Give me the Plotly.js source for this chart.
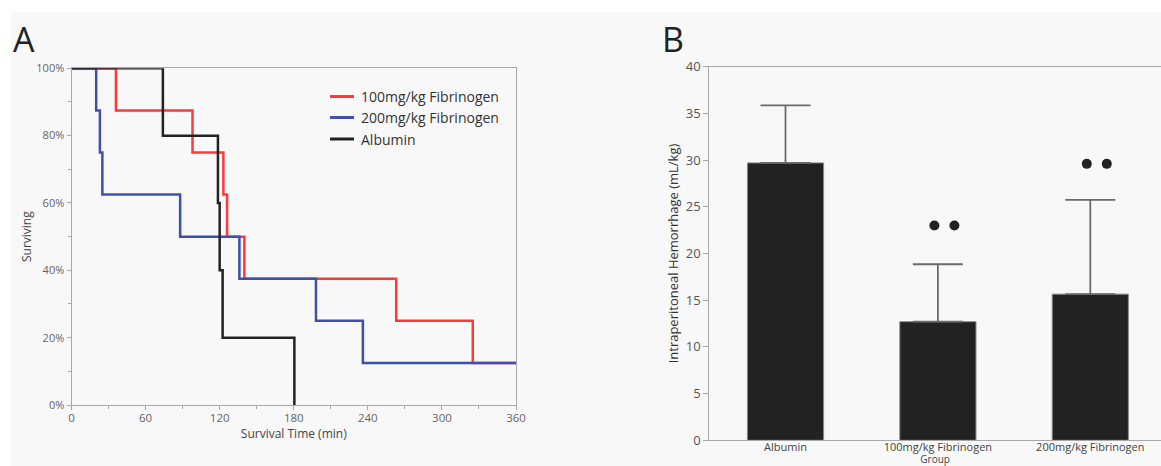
<!DOCTYPE html>
<html>
<head>
<meta charset="utf-8">
<script src="https://cdn.plot.ly/plotly-3.0.1.min.js"></script>
<style>html,body{margin:0;padding:0;background:#fff;}#chart{width:1161px;height:466px;}</style>
</head>
<body>
<div id="chart"></div>
<script>
// ---- Panel A: Kaplan-Meier survival ----
const seriesNames = ["100mg/kg Fibrinogen", "200mg/kg Fibrinogen", "Albumin"];
const seriesColors = ["#ff3838", "#3f4fae", "#222222"];
const timeFib100 = [0, 36, 98, 123, 126, 140, 263, 325, 360];
const survFib100 = [1, 0.875, 0.75, 0.625, 0.5, 0.375, 0.25, 0.125, 0.125];
const timeFib200 = [0, 20, 23, 25, 88, 136, 198, 236, 360];
const survFib200 = [1, 0.875, 0.75, 0.625, 0.5, 0.375, 0.25, 0.125, 0.125];
const timeAlb = [0, 74, 118.6, 120, 122.4, 180.5];
const survAlb = [1, 0.8, 0.6, 0.4, 0.2, 0];
const xTicksA = [0, 60, 120, 180, 240, 300, 360];
const yTicksA = [0, 0.2, 0.4, 0.6, 0.8, 1.0];

// ---- Panel B: Intraperitoneal hemorrhage ----
const groups = ["Albumin", "100mg/kg Fibrinogen", "200mg/kg Fibrinogen"];
const hemorrhage = [29.7, 12.7, 15.65];
const hemorrhageSD = [6.15, 6.15, 10.1];
const sigMarkY = [null, 23.0, 29.6];

const W = 1161, H = 466;
const px = v => v / W;
const py = v => (H - v) / H;

const times = [timeFib100, timeFib200, timeAlb];
const survs = [survFib100, survFib200, survAlb];

const traces = times.map((t, i) => ({
  type: "scatter", mode: "lines", x: t, y: survs[i], name: seriesNames[i],
  line: {shape: "hv", color: seriesColors[i], width: 2.5},
  xaxis: "x", yaxis: "y", showlegend: false, hoverinfo: "x+y+name"
}));

traces.push({
  type: "bar", x: groups, y: hemorrhage, xaxis: "x2", yaxis: "y2",
  width: 0.5, showlegend: false,
  marker: {color: "#222222", line: {color: "#8a8a8a", width: 1}},
  error_y: {type: "data", array: hemorrhageSD, arrayminus: hemorrhageSD.map(() => 0),
            symmetric: false, color: "#6a6a6a", thickness: 1.8, width: 25}
});

const font = "'Open Sans', 'Noto Sans', sans-serif";
const shapes = [
  {type: "rect", xref: "paper", yref: "paper", x0: px(11), x1: 1, y0: 0, y1: py(12),
   fillcolor: "#f8f8f8", line: {width: 0}, layer: "below"}
];
const annotations = [
  {text: "A", xref: "paper", yref: "paper", x: px(11), y: py(14), xanchor: "left", yanchor: "top",
   showarrow: false, font: {family: font, size: 34, color: "#222"}},
  {text: "B", xref: "paper", yref: "paper", x: px(660), y: py(14), xanchor: "left", yanchor: "top",
   showarrow: false, font: {family: font, size: 34, color: "#222"}}
];
// manual legend built from series arrays
const legendRows = [96.5, 117.5, 139];
seriesNames.forEach((n, i) => {
  shapes.push({type: "line", xref: "paper", yref: "paper", x0: px(330), x1: px(354),
    y0: py(legendRows[i]), y1: py(legendRows[i]), line: {color: seriesColors[i], width: 3}});
  annotations.push({text: n, xref: "paper", yref: "paper", x: px(359), y: py(legendRows[i]),
    xanchor: "left", yanchor: "middle", showarrow: false, font: {family: font, size: 14, color: "#333"}});
});
// significance dots
sigMarkY.forEach((v, i) => {
  if (v === null) return;
  [[-8.5, 1.5], [11.5, 21.5]].forEach(o => {
    shapes.push({type: "circle", xref: "x2", yref: "y2", xsizemode: "pixel", ysizemode: "pixel",
      xanchor: groups[i], yanchor: v, x0: o[0], x1: o[1], y0: -5, y1: 5,
      fillcolor: "#222", line: {width: 0}});
  });
});

const layout = {
  width: W, height: H,
  margin: {l: 0, r: 0, t: 0, b: 0},
  paper_bgcolor: "#ffffff", plot_bgcolor: "rgba(0,0,0,0)",
  showlegend: false,
  font: {family: font, color: "#333"},
  xaxis: {
    domain: [px(71.5), px(516)], range: [0, 360], tickvals: xTicksA,
    showgrid: false, zeroline: false, showline: true, linecolor: "#a8a8a8", mirror: true,
    ticks: "outside", ticklen: 4, tickcolor: "#a8a8a8", ticklabelstandoff: -2,
    minor: {dtick: 30, ticks: "outside", ticklen: 3, tickcolor: "#a8a8a8"},
    tickfont: {size: 11.5, color: "#666"},
    title: {text: "Survival Time (min)", font: {size: 12, color: "#444"}, standoff: 0}
  },
  yaxis: {
    domain: [py(405), py(68.3)], range: [0, 1], tickvals: yTicksA, tickformat: ".0%",
    showgrid: false, zeroline: false, showline: true, linecolor: "#a8a8a8", mirror: true,
    ticks: "outside", ticklen: 4, tickcolor: "#a8a8a8",
    minor: {dtick: 0.1, ticks: "outside", ticklen: 3, tickcolor: "#a8a8a8"},
    tickfont: {size: 11, color: "#666"},
    title: {text: "Surviving", font: {size: 12, color: "#444"}, standoff: 2}
  },
  xaxis2: {
    domain: [px(709.3), 1], range: [-0.5, 2.464], type: "category",
    showgrid: false, zeroline: false, showline: true, linecolor: "#a8a8a8", mirror: true,
    ticks: "", tickfont: {size: 11, color: "#444"}, ticklabelstandoff: -4,
    title: {text: "Group", font: {size: 10, color: "#444"}, standoff: 0},
    anchor: "y2"
  },
  yaxis2: {
    domain: [py(440.3), py(66.7)], range: [0, 40], dtick: 5,
    showgrid: false, zeroline: false, showline: true, linecolor: "#a8a8a8",
    ticks: "outside", ticklen: 5, tickcolor: "#a8a8a8",
    tickfont: {size: 13, color: "#555"},
    title: {text: "Intraperitoneal Hemorrhage (mL/kg)", font: {size: 13, color: "#333"}, standoff: 4},
    anchor: "x2"
  },
  shapes: shapes,
  annotations: annotations
};

Plotly.newPlot("chart", traces, layout, {displayModeBar: false, staticPlot: true});
</script>
</body>
</html>
